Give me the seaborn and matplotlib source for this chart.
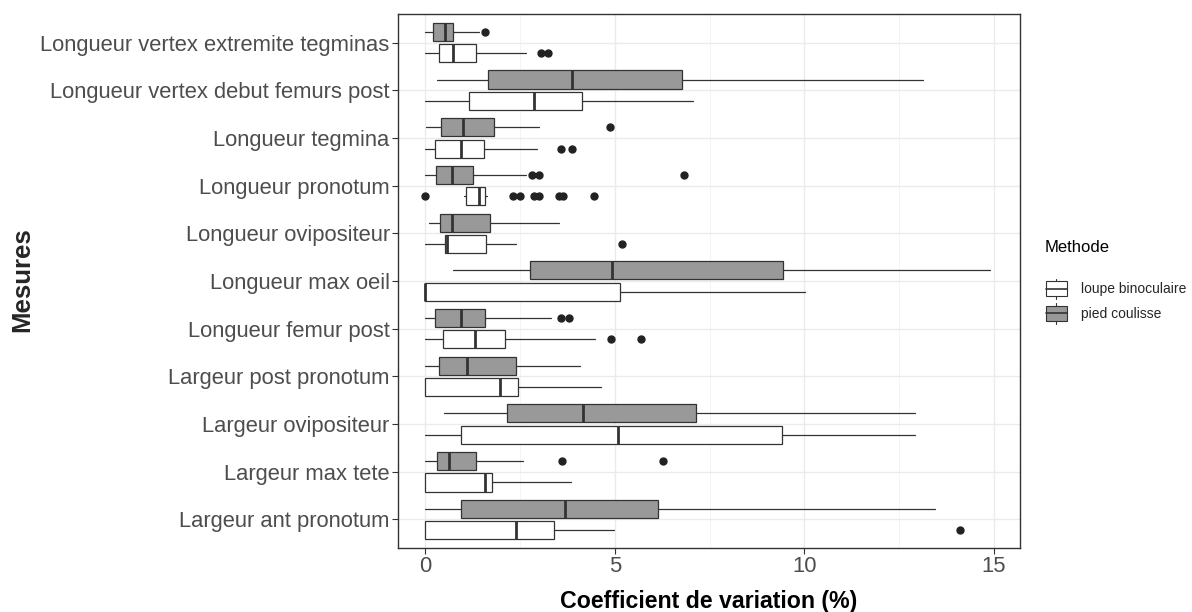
import matplotlib
matplotlib.use("Agg")
import matplotlib.pyplot as plt
import seaborn as sns
from matplotlib.legend_handler import HandlerBase
from matplotlib.lines import Line2D
from matplotlib.patches import Rectangle, Patch

categories = [
    "Longueur vertex extremite tegminas",
    "Longueur vertex debut femurs post",
    "Longueur tegmina",
    "Longueur pronotum",
    "Longueur ovipositeur",
    "Longueur max oeil",
    "Longueur femur post",
    "Largeur post pronotum",
    "Largeur ovipositeur",
    "Largeur max tete",
    "Largeur ant pronotum",
]
methods = ["loupe binoculaire", "pied coulisse"]

# pied coulisse (grey)
whislo_pc = [0.0, 0.31, 0.03, 0.0, 0.10, 0.74, 0.0, 0.0, 0.49, 0.0, 0.0]
q1_pc = [0.21, 1.66, 0.41, 0.27, 0.40, 2.75, 0.25, 0.37, 2.16, 0.31, 0.95]
med_pc = [0.51, 3.88, 1.00, 0.70, 0.70, 4.92, 0.94, 1.09, 4.15, 0.63, 3.69]
q3_pc = [0.74, 6.77, 1.82, 1.27, 1.72, 9.44, 1.57, 2.38, 7.13, 1.33, 6.14]
whishi_pc = [1.42, 13.14, 3.01, 2.66, 3.54, 14.9, 3.31, 4.08, 12.92, 2.57, 13.45]
out_pc = [[1.58], [], [4.87], [2.81, 2.99, 6.82], [], [], [3.58, 3.79], [], [],
          [3.61, 6.27], []]

# loupe binoculaire (white)
whislo_lb = [0.0, 0.0, 0.0, 1.03, 0.0, 0.0, 0.0, 0.0, 0.0, 0.0, 0.0]
q1_lb = [0.37, 1.14, 0.25, 1.07, 0.52, 0.0, 0.47, 0.0, 0.93, 0.0, 0.0]
med_lb = [0.72, 2.86, 0.94, 1.41, 0.56, 0.0, 1.31, 1.96, 5.08, 1.57, 2.40]
q3_lb = [1.33, 4.14, 1.54, 1.57, 1.61, 5.15, 2.10, 2.44, 9.42, 1.77, 3.40]
whishi_lb = [2.66, 7.05, 2.94, 1.64, 2.38, 10.02, 4.49, 4.64, 12.92, 3.84, 4.98]
out_lb = [[3.06, 3.24], [], [3.58, 3.88], [0.0, 2.31, 2.50, 2.87, 3.0, 3.52, 3.64, 4.45],
          [5.19], [], [4.91, 5.68], [], [], [], [14.11]]

xticks = [0, 5, 10, 15]

sns.set_theme(style="whitegrid")
plt.rcParams["font.family"] = ["Liberation Sans", "DejaVu Sans"]

fig = plt.figure(figsize=(11.92, 6.12), dpi=100)
ax = fig.add_axes([398 / 1192, 1 - 548 / 612, (1020 - 398) / 1192, (548 - 14) / 612])
ax.set_facecolor("white")

edge = "#333333"
fills = {"loupe binoculaire": "#FFFFFF", "pied coulisse": "#999999"}
offsets = {"loupe binoculaire": 0.225, "pied coulisse": -0.225}


def make_stats(lo, a, m, b, hi, out):
    return [dict(whislo=lo[i], q1=a[i], med=m[i], q3=b[i], whishi=hi[i], fliers=out[i])
            for i in range(len(lo))]


stats = {
    "pied coulisse": make_stats(whislo_pc, q1_pc, med_pc, q3_pc, whishi_pc, out_pc),
    "loupe binoculaire": make_stats(whislo_lb, q1_lb, med_lb, q3_lb, whishi_lb, out_lb),
}

for meth in methods:
    pos = [i + offsets[meth] for i in range(len(categories))]
    ax.bxp(
        stats[meth], positions=pos, widths=0.38, vert=False, patch_artist=True,
        showcaps=False, manage_ticks=False,
        boxprops=dict(facecolor=fills[meth], edgecolor=edge, linewidth=0.9),
        whiskerprops=dict(color=edge, linewidth=0.9),
        medianprops=dict(color=edge, linewidth=2.0, solid_capstyle="butt"),
        flierprops=dict(marker="o", markerfacecolor="#222222", markeredgecolor="#222222",
                        markersize=5, linestyle="none"),
        zorder=3,
    )

ax.set_xlim(-0.72, 15.69)
ax.set_ylim(len(categories) - 0.4, -0.6)
ax.set_xticks(xticks)
ax.set_xticks([2.5, 7.5, 12.5], minor=True)
ax.set_xticklabels([str(t) for t in xticks])
ax.set_yticks(range(len(categories)))
ax.set_yticklabels(categories)

ax.grid(which="major", color="#EBEBEB", linewidth=1.0, zorder=0)
ax.grid(which="minor", axis="x", color="#F2F2F2", linewidth=0.6, zorder=0)
ax.set_axisbelow(True)

for sp in ax.spines.values():
    sp.set_color("#333333")
    sp.set_linewidth(1.0)

ax.tick_params(axis="both", which="major", length=4, width=0.8, color="#333333",
               labelcolor="#4D4D4D", labelsize=15.8, pad=2)
ax.tick_params(axis="x", which="minor", length=0)
ax.tick_params(left=True, bottom=True)

ax.set_xlabel("Coefficient de variation (%)", fontsize=16.7, fontweight="bold",
              color="black", labelpad=9)
ax.set_ylabel("")
fig.text(22 / 1192, 1 - 280 / 612, "Mesures", rotation=90, fontsize=18.5,
         fontweight="bold", ha="center", va="center")


class BoxHandler(HandlerBase):
    def create_artists(self, legend, orig_handle, xdescent, ydescent, width, height,
                       fontsize, trans):
        fc = orig_handle.get_facecolor()
        cx = -xdescent + width / 2
        y0 = -ydescent
        arts = []
        arts.append(Line2D([cx, cx], [y0 - height * 0.02, y0 + height * 1.02],
                           color=edge, linewidth=0.8, transform=trans))
        r = Rectangle((-xdescent, y0 + height * 0.12), width, height * 0.76,
                      facecolor=fc, edgecolor=edge, linewidth=0.8, transform=trans)
        arts.append(r)
        arts.append(Line2D([-xdescent, -xdescent + width], [y0 + height / 2] * 2,
                           color=edge, linewidth=1.2, transform=trans))
        return arts


fig.text(1045 / 1192, 1 - 247 / 612, "Methode", fontsize=12, ha="left", va="center",
         color="black")
handles = [Patch(facecolor=fills[m], edgecolor=edge) for m in methods]
leg = fig.legend(handles, methods, loc="upper left",
                 bbox_to_anchor=(1046 / 1192, 1 - 279 / 612), frameon=False,
                 fontsize=10, handler_map={Patch: BoxHandler()}, handlelength=1.5,
                 handleheight=1.8, labelspacing=0.35, handletextpad=1.0,
                 borderaxespad=0, borderpad=0)

fig.savefig("out.png", dpi=100, facecolor="white")
